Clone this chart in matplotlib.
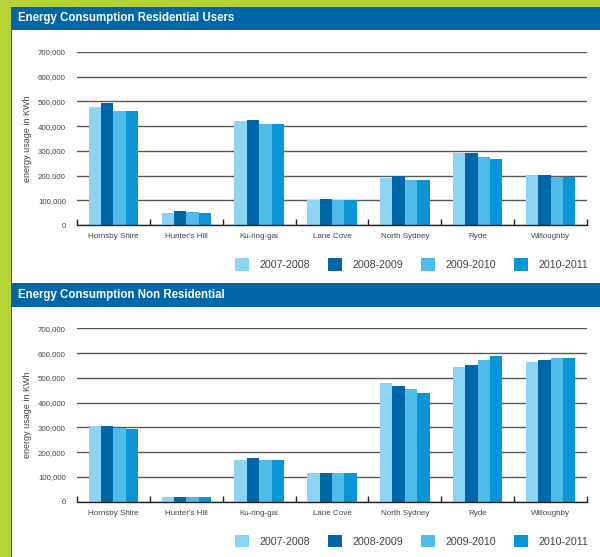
import matplotlib
matplotlib.use("Agg")
import matplotlib.pyplot as plt
from matplotlib.patches import Rectangle

plt.rcParams['font.family'] = ['Liberation Sans', 'DejaVu Sans']

# Data
councils = ["Hornsby Shire", "Hunter's Hill", "Ku-ring-gai", "Lane Cove",
            "North Sydney", "Ryde", "Willoughby"]
years = ["2007-2008", "2008-2009", "2009-2010", "2010-2011"]

residential = [
    [478000, 50000, 421000, 101000, 190000, 291000, 201000],   # 2007-2008
    [494000, 58000, 425000, 105000, 197000, 291000, 201000],   # 2008-2009
    [462000, 54000, 410000, 101000, 182000, 275000, 196000],   # 2009-2010
    [462000, 50000, 410000, 101000, 182000, 267000, 196000],   # 2010-2011
]
non_residential = [
    [306000, 19000, 168000, 116000, 479000, 544000, 564000],
    [306000, 19000, 177000, 116000, 467000, 552000, 572000],
    [299000, 19000, 168000, 116000, 455000, 572000, 580000],
    [295000, 19000, 168000, 116000, 439000, 588000, 580000],
]

titles = ["Energy Consumption Residential Users", "Energy Consumption Non Residential"]
yticks = [0, 100000, 200000, 300000, 400000, 500000, 600000, 700000]

colors = ["#8dd4f4", "#0066a8", "#4fbbe9", "#0995d6"]
header_blue = "#0066a8"
green = "#b5d334"

W, H = 600, 557
fig = plt.figure(figsize=(W / 100, H / 100), dpi=100, facecolor=green)


def fx(px):
    return px / W


def fy(py):
    return 1 - py / H


# white page with thin blue left edge
fig.patches.append(Rectangle((fx(11), 0), 1 - fx(11), fy(7), transform=fig.transFigure,
                             facecolor="white", edgecolor="none", zorder=0))
fig.patches.append(Rectangle((fx(10.5), 0), fx(1.2), fy(7), transform=fig.transFigure,
                             facecolor=header_blue, edgecolor="none", zorder=0))

panels = [
    dict(data=residential, header=(7, 30), ax_top=52, ax_bottom=225, legend_y=264.5),
    dict(data=non_residential, header=(283, 307), ax_top=328.3, ax_bottom=501.7, legend_y=541),
]

bar_w = 0.17
for title, p in zip(titles, panels):
    h0, h1 = p["header"]
    fig.patches.append(Rectangle((fx(11), fy(h1)), 1 - fx(11), fy(h0) - fy(h1),
                                 transform=fig.transFigure, facecolor=header_blue,
                                 edgecolor="none", zorder=1))
    fig.text(fx(18), fy((h0 + h1) / 2), title, color="white", fontsize=8.3,
             fontweight="bold", va="center", ha="left")

    ax = fig.add_axes([fx(77), fy(p["ax_bottom"]), fx(587) - fx(77),
                       fy(p["ax_top"]) - fy(p["ax_bottom"])])
    ax.set_zorder(3)
    ax.set_facecolor("none")
    x = list(range(len(councils)))
    handles = []
    for i, (yr, vals) in enumerate(zip(years, p["data"])):
        pos = [xi + (i - 1.5) * bar_w for xi in x]
        b = ax.bar(pos, vals, width=bar_w, color=colors[i], label=yr, zorder=3,
                   linewidth=0)
        handles.append(b)

    ax.set_xlim(-0.5, len(councils) - 0.5)
    ax.set_ylim(0, 700000)
    ax.set_yticks(yticks)
    ax.set_yticklabels([f"{v:,}" for v in yticks])
    ax.yaxis.grid(True, color="#5a5a5a", linewidth=1.0, zorder=1)
    ax.set_axisbelow(True)
    for s in ["left", "right", "top"]:
        ax.spines[s].set_visible(False)
    ax.spines["bottom"].set_color("#222222")
    ax.spines["bottom"].set_linewidth(1.0)
    ax.spines["bottom"].set_zorder(4)

    ax.set_xticks(x)
    ax.set_xticklabels(councils)
    ax.set_xticks([v - 0.5 for v in range(len(councils) + 1)], minor=True)
    ax.tick_params(axis="x", which="major", length=0, labelsize=5.8,
                   labelcolor="#444444", pad=6)
    ax.tick_params(axis="x", which="minor", length=4, direction="in",
                   color="#222222", width=1)
    ax.tick_params(axis="y", length=0, labelsize=5.7, labelcolor="#444444", pad=8)
    ax.set_ylabel("energy usage in KWh", fontsize=6.5, color="#444444", labelpad=4)

    leg = fig.legend(handles=handles, labels=years, ncol=4, frameon=False,
                     loc="center right", bbox_to_anchor=(fx(588), fy(p["legend_y"])),
                     fontsize=7.7, handlelength=1.35, handleheight=1.35,
                     handletextpad=0.95, columnspacing=1.65, labelcolor="#444444",
                     borderaxespad=0, borderpad=0)
    leg.set_zorder(3)

fig.savefig("out.png", dpi=100, facecolor=green)
